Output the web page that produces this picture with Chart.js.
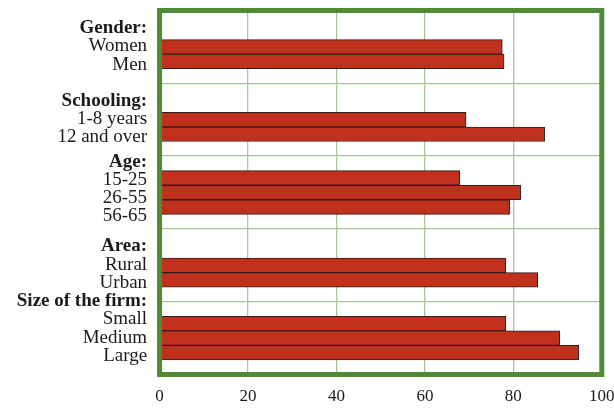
<!DOCTYPE html>
<html>
<head>
<meta charset="utf-8">
<script src="https://cdn.jsdelivr.net/npm/chart.js"></script>
<style>
  html, body { margin: 0; padding: 0; background: #fff; }
  #wrap { width: 614px; height: 409px; }
</style>
</head>
<body>
<div id="wrap"><canvas id="chart"></canvas></div>
<script>
// group items and their values (per cent)
const genderItems = ['Women', 'Men'];
const genderValues = [77.5, 77.9];

const schoolingItems = ['1-8 years', '12 and over'];
const schoolingValues = [69.3, 87.1];

const ageItems = ['15-25', '26-55', '56-65'];
const ageValues = [67.9, 81.7, 79.2];

const areaItems = ['Rural', 'Urban'];
const areaValues = [78.3, 85.5];

const firmItems = ['Small', 'Medium', 'Large'];
const firmValues = [78.3, 90.5, 94.8];

// text column on the left, 12 rows per group
const labelRows = [
  '', '', 'Gender:', '', '', 'Women', '', '', 'Men', '', '', '',
  '', '', 'Schooling:', '', '', '1-8 years', '', '', '12 and over', '', '', '',
  'Age:', '', '', '15-25', '', '', '26-55', '', '', '56-65', '', '',
  '', '', 'Area:', '', '', 'Rural', '', '', 'Urban', '', '', 'Size of the firm:',
  '', '', 'Small', '', '', 'Medium', '', '', 'Large', '', '', ''
];

const xTicks = [0, 20, 40, 60, 80, 100];

const GREEN = '#4f8a36';
const GRID = '#a9c79b';
const TEXT = '#1f1a1a';
const FONT = 'Liberation Serif';

// five slots per group, bars sit at the bottom of each block with one spare row
const groups = [
  [genderItems, genderValues],
  [schoolingItems, schoolingValues],
  [ageItems, ageValues],
  [areaItems, areaValues],
  [firmItems, firmValues]
];
const barSlots = [];
const barValues = [];
groups.forEach(([items, values]) => {
  for (let i = 0; i < 4 - items.length; i++) { barSlots.push(''); barValues.push(null); }
  items.forEach((name, i) => { barSlots.push(name); barValues.push(values[i]); });
  barSlots.push(''); barValues.push(null);
});

const framePlugin = {
  id: 'frame',
  afterDraw(chart) {
    const { ctx, chartArea: a } = chart;
    ctx.save();
    ctx.strokeStyle = GREEN;
    ctx.lineWidth = 5;
    ctx.strokeRect(a.left, a.top, a.right - a.left, a.bottom - a.top);
    ctx.restore();
  }
};

new Chart(document.getElementById('chart'), {
  type: 'bar',
  data: {
    labels: barSlots,
    datasets: [{
      data: barValues,
      backgroundColor: '#c0301c',
      borderColor: '#2a2020',
      borderWidth: 1,
      borderSkipped: false,
      barPercentage: 1,
      categoryPercentage: 1,
      yAxisID: 'y'
    }]
  },
  plugins: [framePlugin],
  options: {
    indexAxis: 'y',
    responsive: true,
    maintainAspectRatio: false,
    animation: false,
    events: [],
    layout: { padding: { top: 10.5, left: 0, right: 12.2, bottom: 0 } },
    plugins: { legend: { display: false }, tooltip: { enabled: false } },
    scales: {
      x: {
        min: 0,
        max: 100,
        afterBuildTicks: scale => { scale.ticks = xTicks.map(v => ({ value: v })); },
        afterFit: scale => {
          scale.height = 34.5;
          scale.paddingLeft = 0;
          scale.paddingRight = 0;
        },
        grid: { color: GRID, lineWidth: 1.3, drawTicks: false },
        border: { display: false },
        ticks: { color: TEXT, padding: 12, font: { family: FONT, size: 17 } }
      },
      y: {
        display: true,
        grid: {
          color: ctx => (ctx.index % 5 === 0 ? GRID : 'rgba(0,0,0,0)'),
          lineWidth: 1.3,
          drawTicks: false,
          offset: true
        },
        border: { display: false },
        ticks: { display: false },
        afterFit: scale => {
          scale.width = 0;
          scale.paddingTop = 0;
          scale.paddingBottom = 0;
        }
      },
      yl: {
        type: 'category',
        position: 'left',
        labels: labelRows,
        offset: true,
        grid: { display: false, drawTicks: false },
        border: { display: false },
        afterFit: scale => {
          scale.width = 159.6;
          scale.paddingTop = 0;
          scale.paddingBottom = 0;
        },
        ticks: {
          autoSkip: false,
          color: TEXT,
          padding: 12.5,
          labelOffset: 2.5,
          font: ctx => ({
            family: FONT,
            size: 19,
            weight: ctx.tick && ctx.tick.label.endsWith(':') ? 'bold' : 'normal'
          })
        }
      }
    }
  }
});
</script>
</body>
</html>
